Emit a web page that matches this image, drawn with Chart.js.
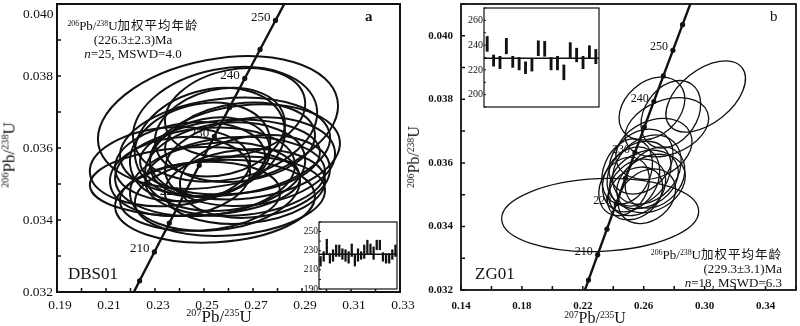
<!DOCTYPE html>
<html>
<head>
<meta charset="utf-8">
<script src="https://cdn.jsdelivr.net/npm/chart.js@4.4.1/dist/chart.umd.min.js"></script>
<style>
  body { margin: 0; background: #fff; }
  #page { position: relative; width: 800px; height: 326px; overflow: hidden;
          font-family: "Liberation Serif", "Times New Roman", "Noto Sans CJK SC", serif; color: #111; }
  .wrap { position: absolute; }
  .txt { position: absolute; white-space: nowrap; line-height: 1; }
  .txt sup { font-size: 0.6em; vertical-align: 0.55em; line-height: 0; }
  .note { font-size: 13px; line-height: 14px; }
  .note .cn { font-family: "Noto Sans CJK SC", sans-serif; font-size: 12.5px; letter-spacing: 1px; }
  .title { font-size: 17px; }
  .rot { transform: translate(-50%, -50%) rotate(-90deg); }
</style>
</head>
<body>
<div id="page">
  <div class="wrap" style="left:0;top:0;width:415px;height:326px"><canvas id="chartA"></canvas></div>
  <div class="wrap" style="left:400px;top:0;width:400px;height:326px"><canvas id="chartB"></canvas></div>
  <div class="wrap" style="left:297px;top:218px;width:102px;height:75px"><canvas id="insetA"></canvas></div>
  <div class="wrap" style="left:462px;top:2px;width:138px;height:109px"><canvas id="insetB"></canvas></div>

  <!-- panel a text -->
  <div class="txt" style="left:23px;top:7px;width:30px;text-align:right;font-size:13.5px">0.040</div>
  <div class="txt note" style="left:53px;top:18px;width:160px;text-align:center">
    <sup>206</sup>Pb/<sup>238</sup>U<span class="cn">加权平均年龄</span><br>(226.3±2.3)Ma<br><i>n</i>=25, MSWD=4.0
  </div>
  <div class="txt" style="left:365px;top:9px;font-size:15px;font-weight:bold">a</div>
  <div class="txt" style="left:68px;top:265px;font-size:17px">DBS01</div>
  <div class="txt title" style="left:219px;top:316px;transform:translate(-50%,-50%)"><sup>207</sup>Pb/<sup>235</sup>U</div>
  <div class="txt title rot" style="left:9px;top:155px"><sup>206</sup>Pb/<sup>238</sup>U</div>

  <!-- panel b text -->
  <div class="txt note" style="left:620px;top:247px;width:162px;text-align:right">
    <sup>206</sup>Pb/<sup>238</sup>U<span class="cn">加权平均年龄</span><br>(229.3±3.1)Ma<br><i>n</i>=18, MSWD=6.3
  </div>
  <div class="txt" style="left:770px;top:9px;font-size:15px">b</div>
  <div class="txt" style="left:475px;top:265px;font-size:17px">ZG01</div>
  <div class="txt title" style="left:595px;top:318px;transform:translate(-50%,-50%);font-size:16px"><sup>207</sup>Pb/<sup>235</sup>U</div>
  <div class="txt title rot" style="left:414px;top:157px;font-size:16px"><sup>206</sup>Pb/<sup>238</sup>U</div>
</div>

<script>
// decay constants, per Ma
const L238 = 1.55125e-4;
const L235 = 9.8485e-4;

// ages marked on the concordia and the ones that get a number
const concordiaAges = [195, 200, 205, 210, 215, 220, 225, 230, 235, 240, 245, 250, 255, 260, 265];
const labelledAges = [210, 220, 230, 240, 250];

// DBS01 spots: centre ratios, ellipse half-widths, error correlation
const dbsX = [0.2557, 0.2586, 0.2463, 0.2545, 0.2606, 0.2688, 0.2667, 0.2484, 0.2524, 0.2586, 0.2504, 0.2627, 0.2647,
              0.2565, 0.2443, 0.2606, 0.2545, 0.2402, 0.2708, 0.2627, 0.2484, 0.2667, 0.2524, 0.2586, 0.2361];
const dbsY = [0.03671, 0.03666, 0.03507, 0.03452, 0.03466, 0.03562, 0.03589, 0.03589, 0.03616, 0.03548, 0.03534, 0.03521, 0.03616,
              0.03644, 0.03562, 0.03575, 0.03493, 0.03521, 0.03521, 0.03699, 0.03466, 0.03493, 0.03575, 0.03603, 0.03548];
const dbsEx = [0.0490, 0.0376, 0.0429, 0.0408, 0.0388, 0.0347, 0.0388, 0.0286, 0.0306, 0.0327, 0.0367, 0.0367, 0.0306,
               0.0265, 0.0306, 0.0367, 0.0347, 0.0286, 0.0306, 0.0286, 0.0327, 0.0327, 0.0245, 0.0429, 0.0327];
const dbsEy = [0.00184, 0.00159, 0.00096, 0.00115, 0.00110, 0.00123, 0.00132, 0.00137, 0.00151, 0.00123, 0.00123, 0.00110, 0.00110,
               0.00123, 0.00110, 0.00104, 0.00123, 0.00110, 0.00115, 0.00123, 0.00096, 0.00104, 0.00110, 0.00137, 0.00110];
const dbsRho = [0.25, 0.2, 0.1, 0.12, 0.15, 0.18, 0.18, 0.2, 0.2, 0.15, 0.15, 0.12, 0.18,
                0.2, 0.15, 0.12, 0.15, 0.12, 0.18, 0.2, 0.12, 0.15, 0.18, 0.18, 0.12];

// ZG01 spots
const zgX = [0.2314, 0.3007, 0.2654, 0.2778, 0.2752, 0.2667, 0.2621, 0.2569, 0.2602, 0.2517, 0.2556, 0.2648, 0.2491,
             0.2582, 0.2543, 0.2674, 0.2471, 0.2621];
const zgY = [0.03436, 0.03809, 0.03771, 0.03753, 0.03712, 0.03644, 0.03579, 0.03566, 0.03548, 0.03548, 0.03523, 0.03535, 0.03573,
             0.03604, 0.03504, 0.03554, 0.03526, 0.03495];
const zgEx = [0.0647, 0.0261, 0.0216, 0.0196, 0.0274, 0.0250, 0.0225, 0.0210, 0.0225, 0.0188, 0.0188, 0.0225, 0.0166,
              0.0210, 0.0181, 0.0196, 0.0166, 0.0188];
const zgEy = [0.00115, 0.00112, 0.00099, 0.00106, 0.00093, 0.00096, 0.00109, 0.00102, 0.00092, 0.00102, 0.00089, 0.00092, 0.00102,
              0.00102, 0.00083, 0.00096, 0.00092, 0.00086];
const zgRho = [0.1, 0.5, 0.3, 0.3, 0.3, 0.25, 0.25, 0.25, 0.25, 0.25, 0.25, 0.25, 0.25, 0.25, 0.25, 0.25, 0.25, 0.25];

// 206Pb/238U ages (Ma), error bar ends, for the weighted-mean insets
const dbsAgeLow  = [214, 219, 226, 217, 219, 224, 224, 221, 219, 217, 224, 214, 219, 221, 222, 227, 226, 221, 231, 231, 219, 217, 217, 221, 224];
const dbsAgeHigh = [224, 229, 242, 227, 231, 236, 236, 232, 231, 229, 237, 226, 232, 229, 236, 241, 237, 234, 241, 241, 228, 227, 227, 231, 236];
const dbsMeanAge = 226.3;
const zgAgeLow  = [235, 223, 221, 233, 222, 220, 217, 219, 231.5, 231, 220, 220, 212, 230, 226.5, 221, 229.5, 225];
const zgAgeHigh = [247, 232, 231, 245.5, 231, 230, 226.5, 228.5, 243.5, 243, 230, 231, 224, 242, 237.5, 231, 239.5, 236.5];
const zgMeanAge = 229.3;

// tick labels
const xLabelsA = ['0.19', '0.21', '0.23', '0.25', '0.27', '0.29', '0.31', '0.33'];
const yLabelsA = ['0.032', '0.034', '0.036', '0.038'];
const xLabelsB = ['0.14', '0.18', '0.22', '0.26', '0.30', '0.34'];
const yLabelsB = ['0.032', '0.034', '0.036', '0.038', '0.040'];
const ageLabelsA = [190, 210, 230, 250];
const ageLabelsB = [200, 220, 240, 260];

const INK = '#111';
const SERIF = '"Liberation Serif", "Times New Roman", serif';

const concordia = concordiaAges.map(t => ({ x: Math.expm1(L235 * t), y: Math.expm1(L238 * t) }));

// box round the plot area plus short ticks pointing inwards
const frame = {
  id: 'frame',
  afterDatasetsDraw(chart, args, opts) {
    const { ctx, chartArea: area, scales } = chart;
    ctx.save();
    ctx.strokeStyle = INK;
    ctx.lineWidth = opts.width;
    ctx.strokeRect(area.left, area.top, area.right - area.left, area.bottom - area.top);
    ctx.lineWidth = opts.tickWidth;
    ctx.beginPath();
    if (opts.xTicks) {
      scales.x.ticks.forEach(t => {
        const px = scales.x.getPixelForValue(t.value);
        ctx.moveTo(px, area.bottom);
        ctx.lineTo(px, area.bottom - opts.tick);
      });
    }
    scales.y.ticks.forEach(t => {
      const py = scales.y.getPixelForValue(t.value);
      ctx.moveTo(area.left, py);
      ctx.lineTo(area.left + opts.tick, py);
    });
    ctx.stroke();
    ctx.restore();
  }
};

// error ellipses, converted to pixel space through the chart scales
function ellipseLayer(xs, ys, ex, ey, rho, lineWidth) {
  return {
    id: 'errorEllipses',
    beforeDatasetsDraw(chart) {
      const { ctx, chartArea: area, scales: { x, y } } = chart;
      ctx.save();
      ctx.beginPath();
      ctx.rect(area.left, area.top, area.right - area.left, area.bottom - area.top);
      ctx.clip();
      ctx.strokeStyle = INK;
      ctx.lineWidth = lineWidth;
      xs.forEach((cx, i) => {
        const px = x.getPixelForValue(cx);
        const py = y.getPixelForValue(ys[i]);
        const u = x.getPixelForValue(cx + ex[i]) - px;
        const v = y.getPixelForValue(ys[i] + ey[i]) - py;
        const c11 = u * u, c22 = v * v, c12 = rho[i] * u * v;
        const mid = (c11 + c22) / 2;
        const d = Math.sqrt(((c11 - c22) / 2) ** 2 + c12 * c12);
        const ang = 0.5 * Math.atan2(2 * c12, c11 - c22);
        ctx.beginPath();
        ctx.ellipse(px, py, Math.sqrt(mid + d), Math.sqrt(Math.max(mid - d, 0)), ang, 0, 2 * Math.PI);
        ctx.stroke();
      });
      ctx.restore();
    }
  };
}

// age numbers beside the concordia dots
function ageLabels(fontSize) {
  return {
    id: 'ageLabels',
    beforeDatasetsDraw(chart) {
      const { ctx, scales: { x, y } } = chart;
      ctx.save();
      ctx.fillStyle = INK;
      ctx.font = fontSize + 'px ' + SERIF;
      ctx.textAlign = 'right';
      ctx.textBaseline = 'middle';
      labelledAges.forEach(t => {
        const px = x.getPixelForValue(Math.expm1(L235 * t));
        const py = y.getPixelForValue(Math.expm1(L238 * t));
        ctx.fillText(String(t), px - 5, py - 3);
      });
      ctx.restore();
    }
  };
}

function concordiaChart(id, cfg) {
  return new Chart(document.getElementById(id), {
    type: 'scatter',
    data: {
      datasets: [{
        data: concordia,
        showLine: true,
        borderColor: INK,
        borderWidth: 2.4,
        pointRadius: 2.6,
        pointBackgroundColor: INK,
        pointBorderWidth: 0
      }]
    },
    options: {
      animation: false,
      responsive: true,
      maintainAspectRatio: false,
      layout: { padding: cfg.padding },
      plugins: {
        legend: { display: false },
        tooltip: { enabled: false },
        frame: { width: cfg.frameWidth, tickWidth: 1.5, tick: 4, xTicks: true }
      },
      scales: {
        x: {
          type: 'linear',
          min: cfg.xMin, max: cfg.xMax,
          grid: { display: false, drawTicks: false },
          border: { display: false },
          ticks: {
            stepSize: cfg.xStep,
            autoSkip: false,
            maxRotation: 0,
            padding: cfg.xPad,
            labelOffset: cfg.xLabelOffset,
            color: INK,
            font: cfg.tickFont,
            callback: v => {
              const s = v.toFixed(2);
              return cfg.xLabels.includes(s) ? s : '';
            }
          },
          afterFit: s => { s.height = cfg.xHeight; s.paddingLeft = 0; s.paddingRight = 0; }
        },
        y: {
          min: cfg.yMin, max: cfg.yMax,
          grid: { display: false, drawTicks: false },
          border: { display: false },
          ticks: {
            stepSize: 0.001,
            autoSkip: false,
            padding: cfg.yPad,
            color: INK,
            font: cfg.tickFont,
            callback: v => {
              const s = v.toFixed(3);
              return cfg.yLabels.includes(s) ? s : '';
            }
          },
          afterFit: s => { s.width = cfg.yWidth; s.paddingTop = 0; s.paddingBottom = 0; }
        }
      }
    },
    plugins: [ageLabels(cfg.ageFont), ellipseLayer(...cfg.spots, cfg.ellipseWidth), frame]
  });
}

function insetChart(id, low, high, mean, cfg) {
  // white card behind the bars, plus the weighted-mean line
  const meanLine = {
    id: 'meanLine',
    beforeDraw(chart) {
      const { ctx, chartArea: area } = chart;
      ctx.save();
      ctx.fillStyle = '#fff';
      ctx.fillRect(area.left, area.top, area.right - area.left, area.bottom - area.top);
      ctx.restore();
    },
    afterDatasetsDraw(chart) {
      const { ctx, chartArea: area, scales: { y } } = chart;
      const py = y.getPixelForValue(mean);
      ctx.save();
      ctx.strokeStyle = INK;
      ctx.lineWidth = 1.5;
      ctx.beginPath();
      ctx.moveTo(area.left, py);
      ctx.lineTo(area.right, py);
      ctx.stroke();
      ctx.restore();
    }
  };
  return new Chart(document.getElementById(id), {
    type: 'bar',
    data: {
      labels: low.map((_, i) => i + 1),
      datasets: [{
        data: low.map((lo, i) => [lo, high[i]]),
        backgroundColor: INK,
        borderWidth: 0,
        barThickness: cfg.barWidth
      }]
    },
    options: {
      animation: false,
      responsive: true,
      maintainAspectRatio: false,
      layout: { padding: cfg.padding },
      plugins: {
        legend: { display: false },
        tooltip: { enabled: false },
        frame: { width: 1.2, tickWidth: 1, tick: 2, xTicks: false }
      },
      scales: {
        x: { display: false, offset: true },
        y: {
          min: cfg.min, max: cfg.max,
          grid: { display: false, drawTicks: false },
          border: { display: false },
          ticks: {
            stepSize: 10,
            autoSkip: false,
            padding: 1,
            color: INK,
            font: { family: SERIF, size: cfg.fontSize },
            callback: v => (cfg.labels.includes(v) ? String(v) : '')
          },
          afterFit: s => { s.width = cfg.yWidth; s.paddingTop = 0; s.paddingBottom = 0; }
        }
      }
    },
    plugins: [meanLine, frame]
  });
}

concordiaChart('chartA', {
  padding: { top: 0, right: 15, bottom: 0, left: 0 },
  xMin: 0.19, xMax: 0.33, xStep: 0.01, xLabels: xLabelsA,
  yMin: 0.032, yMax: 0.040, yLabels: yLabelsA,
  xHeight: 34, yWidth: 57, xPad: 5, yPad: 4, xLabelOffset: 3,
  tickFont: { family: SERIF, size: 13.5 },
  frameWidth: 2, ageFont: 13, ellipseWidth: 2,
  spots: [dbsX, dbsY, dbsEx, dbsEy, dbsRho]
});

concordiaChart('chartB', {
  padding: { top: 0, right: 2, bottom: 0, left: 0 },
  xMin: 0.14, xMax: 0.36, xStep: 0.02, xLabels: xLabelsB,
  yMin: 0.032, yMax: 0.041, yLabels: yLabelsB,
  xHeight: 36, yWidth: 61, xPad: 10, yPad: 8, xLabelOffset: 0,
  tickFont: { family: SERIF, size: 11, weight: 'bold' },
  frameWidth: 1.8, ageFont: 12, ellipseWidth: 1.3,
  spots: [zgX, zgY, zgEx, zgEy, zgRho]
});

insetChart('insetA', dbsAgeLow, dbsAgeHigh, dbsMeanAge, {
  padding: { top: 4, right: 2, bottom: 4, left: 0 },
  min: 190, max: 260, labels: ageLabelsA, yWidth: 22, fontSize: 9.5, barWidth: 1.6
});

insetChart('insetB', zgAgeLow, zgAgeHigh, zgMeanAge, {
  padding: { top: 6, right: 1, bottom: 4, left: 0 },
  min: 190, max: 270, labels: ageLabelsB, yWidth: 22, fontSize: 10, barWidth: 2.2
});
</script>
</body>
</html>
